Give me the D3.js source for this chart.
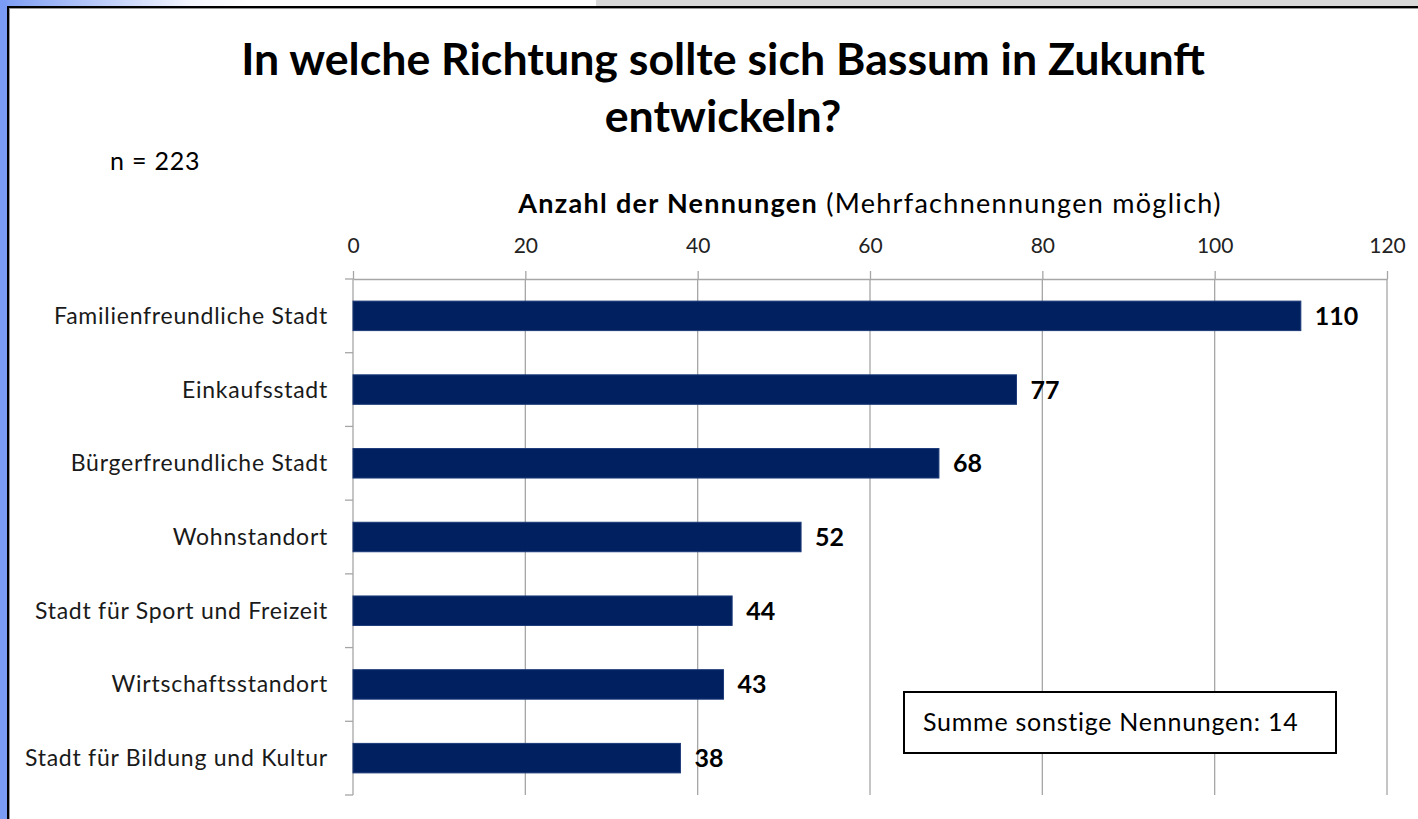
<!DOCTYPE html>
<html><head><meta charset="utf-8">
<script src="https://cdn.jsdelivr.net/npm/d3@7"></script>
<style>
html,body{margin:0;padding:0;background:#fff;}
svg{display:block;font-family:Lato,"Open Sans",sans-serif;}
</style></head>
<body>
<svg id="c" width="1418" height="819"></svg>
<script>
const categories = ["Familienfreundliche Stadt","Einkaufsstadt","Bürgerfreundliche Stadt","Wohnstandort","Stadt für Sport und Freizeit","Wirtschaftsstandort","Stadt für Bildung und Kultur"];
const values = [110, 77, 68, 52, 44, 43, 38];
const xTicks = [0, 20, 40, 60, 80, 100, 120];
const titleLines = ["In welche Richtung sollte sich Bassum in Zukunft", "entwickeln?"];
const sampleNote = "n = 223";
const axisTitleBold = "Anzahl der Nennungen";
const axisTitleRest = " (Mehrfachnennungen möglich)";
const otherNote = "Summe sonstige Nennungen: 14";

const svg = d3.select("#c");
const W = 1418, H = 819;

// frame
const defs = svg.append("defs");
const g1 = defs.append("linearGradient").attr("id","topg").attr("x1","0").attr("x2","1");
g1.append("stop").attr("offset","0").attr("stop-color","#7b9cf4");
g1.append("stop").attr("offset","0.32").attr("stop-color","#f4f6fe");
g1.append("stop").attr("offset","0.42").attr("stop-color","#ffffff");
svg.append("rect").attr("x",0).attr("y",0).attr("width",W).attr("height",H).attr("fill","#fff");
svg.append("rect").attr("x",0).attr("y",0).attr("width",596).attr("height",7).attr("fill","url(#topg)");
svg.append("rect").attr("x",596).attr("y",0).attr("width",W-596).attr("height",7).attr("fill","#d9d9d9");
svg.append("rect").attr("x",0).attr("y",0).attr("width",7).attr("height",H).attr("fill","#7b9cf4");
svg.append("rect").attr("x",7).attr("y",6).attr("width",W-7).attr("height",2).attr("fill","#000");
svg.append("rect").attr("x",7).attr("y",8).attr("width",W-7).attr("height",1).attr("fill","#999");
svg.append("rect").attr("x",7).attr("y",6).attr("width",2).attr("height",H-6).attr("fill","#000");
svg.append("rect").attr("x",9).attr("y",8).attr("width",1).attr("height",H-8).attr("fill","#999");

// title
svg.append("text").attr("x",723).attr("y",0).attr("text-anchor","middle")
  .attr("font-weight","bold").attr("font-size",44.7).attr("fill","#000")
  .selectAll("tspan").data(titleLines).join("tspan")
  .attr("x",723).attr("y",(d,i)=>75+i*57).text(d=>d);

svg.append("text").attr("x",110).attr("y",170).attr("font-size",25).attr("letter-spacing",0.8).attr("fill","#000").text(sampleNote);

const at = svg.append("text").attr("x",870).attr("y",213).attr("text-anchor","middle").attr("font-size",27).attr("letter-spacing",1.3).attr("fill","#000");
at.append("tspan").attr("font-weight","bold").text(axisTitleBold);
at.append("tspan").text(axisTitleRest);

// scales
const x = d3.scaleLinear().domain([0,120]).range([353,1387]);
const y = d3.scaleBand().domain(categories).range([279,795]).paddingInner(0.6).paddingOuter(0.3);

// gridlines
svg.append("g").selectAll("line").data(xTicks.slice(1)).join("line")
  .attr("x1",d=>x(d)).attr("x2",d=>x(d)).attr("y1",279).attr("y2",795)
  .attr("stroke","#a6a6a6").attr("stroke-width",1.3);

// top axis
const xAxis = svg.append("g").attr("transform","translate(0,279)")
  .call(d3.axisTop(x).tickValues(xTicks).tickSize(8).tickSizeOuter(0).tickPadding(18));
xAxis.select(".domain").attr("stroke","#a6a6a6").attr("stroke-width",1.3);
xAxis.selectAll(".tick line").attr("stroke","#a6a6a6").attr("stroke-width",1.3);
xAxis.selectAll(".tick text").attr("font-size",21).attr("fill","#222").attr("font-family","Lato");

// y axis line + band ticks
const boundaries = categories.map(c=>y(c)-y.step()*y.paddingInner()/2);
boundaries.push(795);
boundaries[0] = 279;
svg.append("line").attr("x1",353).attr("x2",353).attr("y1",279).attr("y2",795).attr("stroke","#a6a6a6").attr("stroke-width",1.3);
svg.append("g").selectAll("line").data(boundaries).join("line")
  .attr("x1",345).attr("x2",353).attr("y1",d=>d).attr("y2",d=>d)
  .attr("stroke","#a6a6a6").attr("stroke-width",1.3);

// category labels
svg.append("g").selectAll("text").data(categories).join("text")
  .attr("x",328).attr("y",d=>y(d)+y.bandwidth()/2).attr("dy","0.35em")
  .attr("text-anchor","end").attr("font-size",23).attr("letter-spacing",0.75).attr("fill","#1a1a1a").text(d=>d);

// bars
svg.append("g").selectAll("rect").data(values).join("rect")
  .attr("x",x(0)).attr("y",(d,i)=>y(categories[i]))
  .attr("width",d=>x(d)-x(0)).attr("height",y.bandwidth())
  .attr("fill","#002060").attr("stroke","#1c3a78").attr("stroke-width",1);

// value labels
svg.append("g").selectAll("text").data(values).join("text")
  .attr("x",d=>x(d)+14).attr("y",(d,i)=>y(categories[i])+y.bandwidth()/2).attr("dy","0.36em")
  .attr("font-size",25).attr("font-weight","bold").attr("fill","#000").text(d=>d);

// annotation box
svg.append("rect").attr("x",904).attr("y",692).attr("width",432).attr("height",61)
  .attr("fill","#fff").attr("stroke","#000").attr("stroke-width",2);
svg.append("text").attr("x",923).attr("y",731).attr("font-size",25).attr("letter-spacing",0.75).attr("fill","#000").text(otherNote);
</script>
</body></html>
